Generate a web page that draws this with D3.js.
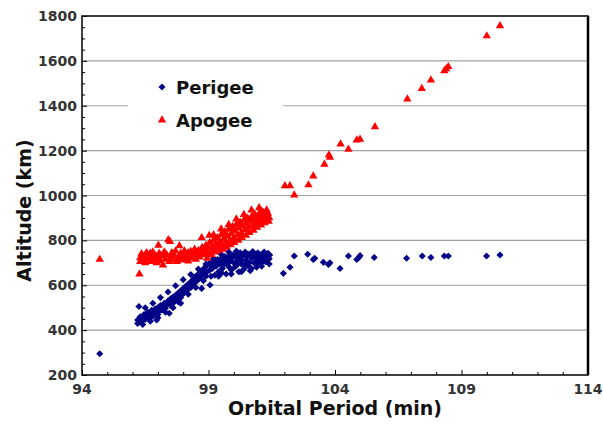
<!DOCTYPE html>
<html>
<head>
<meta charset="utf-8">
<script src="https://cdn.jsdelivr.net/npm/d3@7"></script>
<style>
    body { margin: 0; background: #fff; }
    text { font-family: "DejaVu Sans", sans-serif; font-weight: bold; }
</style>
</head>
<body>
<div class="canvas"></div>
<script>
//Data [period (min), altitude (km)]
const perigee = [
    [94.7, 295],
    [96.2, 430], [96.2, 445], [96.25, 505], [96.3, 460], [96.35, 438], [96.4, 452], [96.45, 470], [96.5, 448],
    [96.55, 462], [96.6, 480], [96.65, 455], [96.7, 470], [96.75, 488], [96.8, 462], [96.85, 478], [96.9, 495],
    [96.95, 445], [97.0, 470], [97.0, 500], [97.05, 485], [97.1, 510], [97.15, 490], [97.2, 505], [97.25, 520],
    [97.3, 498], [97.35, 515], [97.4, 530], [97.45, 475], [97.5, 510], [97.5, 540], [97.55, 525], [97.6, 548],
    [97.65, 530], [97.7, 555], [97.75, 540], [97.8, 527], [97.8, 565], [97.85, 550], [97.9, 575], [97.95, 558],
    [98.0, 585], [98.05, 568], [98.1, 595], [98.15, 578], [98.2, 605], [98.25, 588], [98.3, 615], [98.35, 598],
    [98.4, 628], [98.45, 610], [98.5, 640], [98.55, 620], [98.6, 650], [98.65, 632], [98.7, 662], [98.73, 586],
    [98.75, 645], [98.8, 672], [98.85, 652], [98.9, 685], [98.95, 660], [99.0, 695], [99.06, 601], [99.05, 668],
    [99.1, 700], [99.15, 675], [99.2, 708], [99.25, 645], [99.3, 685], [99.35, 715], [99.4, 660], [99.45, 695],
    [99.5, 720], [99.55, 675], [99.6, 705], [99.65, 728], [99.7, 650], [99.75, 690], [99.8, 730], [99.85, 710],
    [99.9, 668], [99.95, 735], [100.0, 700], [100.05, 682], [100.1, 740], [100.15, 718], [100.2, 660], [100.25, 745],
    [100.3, 695], [100.35, 728], [100.4, 672], [100.45, 748], [100.5, 710], [100.55, 688], [100.6, 738], [100.65, 665],
    [100.7, 722], [100.75, 750], [100.8, 700], [100.85, 735], [100.9, 680], [100.95, 745], [101.0, 712], [101.05, 695],
    [101.1, 738], [101.15, 720], [101.2, 748], [101.25, 705], [101.3, 730], [101.35, 742], [101.4, 718],
    [99.12, 688], [99.28, 700], [99.42, 710], [99.58, 690], [99.68, 715], [99.78, 700], [99.92, 722], [100.02, 730],
    [100.12, 705], [100.22, 725], [100.32, 712], [100.42, 735], [100.52, 728], [100.62, 700], [100.72, 735], [100.82, 725],
    [100.92, 712], [101.02, 732], [101.12, 705], [101.22, 728], [101.32, 712], [101.42, 735], [99.52, 655], [99.82, 680],
    [100.12, 690], [100.42, 690], [100.92, 700], [98.6, 630], [98.9, 640], [98.3, 590], [97.9, 545], [97.6, 520],
    [96.5, 500], [96.8, 520], [97.1, 545], [97.4, 570], [97.7, 598], [98.0, 625], [98.3, 648], [98.6, 672],
    [98.9, 695], [99.2, 720], [99.5, 738], [99.8, 748], [100.1, 752],
    [96.4, 425], [96.7, 440], [97.0, 455], [97.3, 480], [97.6, 500], [97.9, 520], [98.2, 560], [98.5, 590],
    [98.8, 620], [99.1, 640], [99.4, 640], [99.9, 650], [100.3, 660], [100.7, 675], [101.1, 685], [101.4, 695],
    [101.96, 653], [102.22, 680], [102.39, 730], [102.92, 738], [103.14, 715], [103.2, 720], [103.54, 702],
    [103.74, 693], [103.8, 700], [104.2, 675], [104.53, 730], [104.86, 715], [104.95, 725], [104.99, 732],
    [105.55, 724], [106.83, 720], [107.45, 730], [107.79, 724], [108.32, 730], [108.48, 730], [109.99, 730],
    [110.52, 735]
];

const apogee = [
    [94.7, 715],
    [96.27, 650], [96.3, 705], [96.3, 722], [96.35, 740], [96.4, 712], [96.45, 730], [96.5, 700], [96.55, 745],
    [96.6, 718], [96.65, 735], [96.7, 705], [96.75, 725], [96.8, 748], [96.85, 712], [96.9, 732], [96.95, 700],
    [97.0, 722], [97.02, 778], [97.05, 742], [97.1, 710], [97.15, 730], [97.2, 690], [97.25, 748], [97.3, 715],
    [97.35, 735], [97.41, 802], [97.45, 705], [97.48, 795], [97.5, 725], [97.55, 745], [97.6, 712], [97.65, 732],
    [97.7, 752], [97.75, 705], [97.8, 722], [97.85, 776], [97.9, 742], [97.95, 712], [98.0, 730], [98.05, 752],
    [98.1, 718], [98.15, 738], [98.2, 708], [98.25, 728], [98.3, 750], [98.35, 720], [98.4, 740], [98.45, 760],
    [98.5, 715], [98.55, 735], [98.6, 755], [98.65, 725], [98.7, 745], [98.73, 812], [98.75, 768], [98.8, 735],
    [98.85, 758], [98.9, 778], [98.95, 742], [99.0, 765], [99.03, 822], [99.05, 790], [99.1, 750], [99.15, 772],
    [99.2, 800], [99.25, 760], [99.3, 785], [99.35, 812], [99.4, 770], [99.45, 795], [99.5, 825], [99.55, 780],
    [99.6, 805], [99.65, 838], [99.7, 790], [99.75, 818], [99.8, 850], [99.85, 800], [99.9, 830], [99.95, 862],
    [100.0, 812], [100.05, 842], [100.1, 870], [100.15, 825], [100.2, 855], [100.25, 880], [100.3, 835], [100.35, 865],
    [100.4, 890], [100.45, 848], [100.5, 875], [100.55, 898], [100.6, 858], [100.65, 885], [100.7, 905], [100.75, 868],
    [100.8, 892], [100.85, 912], [100.9, 878], [100.95, 900], [101.0, 920], [101.05, 888], [101.1, 908], [101.15, 925],
    [101.2, 895], [101.25, 915], [101.3, 905], [101.35, 920], [101.4, 900],
    [99.12, 735], [99.28, 748], [99.42, 755], [99.58, 760], [99.72, 770], [99.88, 780], [100.02, 790], [100.18, 800],
    [100.32, 812], [100.48, 822], [100.62, 835], [100.78, 845], [100.92, 858], [101.08, 868], [101.22, 878], [101.38, 885],
    [99.6, 830], [99.9, 850], [100.2, 870], [100.5, 895], [100.8, 915], [101.1, 930], [96.4, 728], [96.7, 742],
    [97.0, 708], [97.3, 740], [97.6, 738], [97.9, 725], [98.2, 745], [98.5, 748], [98.8, 748], [98.95, 720],
    [100.7, 935], [101.0, 945], [101.3, 935], [100.4, 915], [100.1, 895], [99.8, 870], [99.5, 850], [99.2, 825],
    [102.02, 1043], [102.22, 1043], [102.39, 1002], [102.95, 1047], [103.14, 1087], [103.58, 1139], [103.76, 1180],
    [103.8, 1170], [104.22, 1229], [104.53, 1206], [104.86, 1247], [104.99, 1250], [105.58, 1306], [106.86, 1430],
    [107.43, 1477], [107.79, 1514], [108.32, 1556], [108.4, 1565], [108.48, 1574], [110.0, 1711], [110.52, 1756]
];

const xTicks = [94, 99, 104, 109, 114];
const yTicks = [200, 400, 600, 800, 1000, 1200, 1400, 1600, 1800];
const legendNames = ['Perigee', 'Apogee'];

//SVG Parameters
const
    width = 603,
    height = 428,
    padL = 82,
    padR = 588,
    padT = 16,
    padB = 375,
    blue = '#000088',
    red = '#ff0000';

const svg = d3.select('.canvas')
    .append('svg')
    .attr('width', width)
    .attr('height', height)
    ;

const xScale = d3.scaleLinear().domain([94, 114]).range([padL, padR]);
const yScale = d3.scaleLinear().domain([200, 1800]).range([padB, padT]);

//Gridlines
svg.append('g')
    .selectAll('line')
    .data(yTicks.slice(1, -1))
    .enter()
    .append('line')
    .attr('x1', padL)
    .attr('x2', padR)
    .attr('y1', d => yScale(d))
    .attr('y2', d => yScale(d))
    .attr('stroke', '#a0a0a0')
    .attr('stroke-width', 1.2)
    ;

//Legend background
svg.append('rect')
    .attr('x', 128)
    .attr('y', 70)
    .attr('width', 155)
    .attr('height', 68)
    .attr('fill', '#fff')
    ;

//Points (perigee: square turned 45deg, a fat diamond)
const diamond = d3.symbol().type(d3.symbolSquare).size(25);
const triangle = d3.symbol().type(d3.symbolTriangle).size(30);

svg.append('g')
    .selectAll('path')
    .data(perigee)
    .enter()
    .append('path')
    .attr('d', diamond)
    .attr('transform', d => `translate(${xScale(d[0])}, ${yScale(d[1])}) rotate(45)`)
    .attr('fill', blue)
    ;

svg.append('g')
    .selectAll('path')
    .data(apogee)
    .enter()
    .append('path')
    .attr('d', triangle)
    .attr('transform', d => `translate(${xScale(d[0])}, ${yScale(d[1])})`)
    .attr('fill', red)
    ;

//Axes
const xAxis = d3.axisBottom(xScale)
    .tickValues(d3.range(94, 114.5, 1))
    .tickSize(0)
    .tickFormat('');
svg.append('g')
    .attr('transform', `translate(0, ${padB})`)
    .call(xAxis)
    .call(g => g.select('.domain').remove())
    .call(g => g.selectAll('.tick line')
        .attr('y2', d => xTicks.includes(d) ? -5 : -3)
        .attr('stroke', '#000'))
    .call(g => g.selectAll('.xlabel')
        .data(xTicks)
        .enter()
        .append('text')
        .attr('x', d => xScale(d))
        .attr('y', 19)
        .attr('text-anchor', 'middle')
        .attr('fill', '#333')
        .attr('font-size', 14)
        .text(d => d))
    ;

const yAxis = d3.axisLeft(yScale)
    .tickValues(d3.range(200, 1801, 50))
    .tickSize(0)
    .tickFormat('');
svg.append('g')
    .attr('transform', `translate(${padL}, 0)`)
    .call(yAxis)
    .call(g => g.select('.domain').remove())
    .call(g => g.selectAll('.tick line')
        .attr('x2', d => yTicks.includes(d) ? 5 : 3)
        .attr('stroke', '#000'))
    .call(g => g.selectAll('.ylabel')
        .data(yTicks)
        .enter()
        .append('text')
        .attr('x', -5)
        .attr('y', d => yScale(d))
        .attr('dy', '0.36em')
        .attr('text-anchor', 'end')
        .attr('fill', '#333')
        .attr('font-size', 14)
        .text(d => d))
    ;

//Frame
svg.append('path')
    .attr('d', `M${padL},${padT}H${padR}V${padB}H${padL}Z`)
    .attr('fill', 'none')
    .attr('stroke', '#000')
    .attr('stroke-width', 1.5)
    ;
svg.append('line')
    .attr('x1', padR)
    .attr('x2', padR)
    .attr('y1', padT)
    .attr('y2', padB)
    .attr('stroke', '#000')
    .attr('stroke-width', 2.5)
    ;

//Titles
svg.append('text')
    .attr('x', (padL + padR) / 2)
    .attr('y', 415)
    .attr('text-anchor', 'middle')
    .attr('font-size', 19)
    .attr('fill', '#111')
    .text('Orbital Period  (min)')
    ;
svg.append('text')
    .attr('transform', `translate(31, ${(padT + padB) / 2 + 15}) rotate(-90)`)
    .attr('text-anchor', 'middle')
    .attr('font-size', 19)
    .attr('fill', '#111')
    .text('Altitude  (km)')
    ;

//Legend
const legend = svg.append('g')
    .selectAll('g')
    .data(legendNames)
    .enter()
    .append('g')
    .attr('transform', (d, i) => `translate(162, ${87 + i * 33})`)
    ;
legend.append('path')
    .attr('d', (d, i) => i === 0 ? diamond() : triangle())
    .attr('transform', (d, i) => i === 0 ? 'rotate(45)' : null)
    .attr('fill', (d, i) => i === 0 ? blue : red)
    ;
legend.append('text')
    .attr('x', 14)
    .attr('y', 7)
    .attr('font-size', 18)
    .attr('fill', '#111')
    .text(d => d)
    ;
</script>
</body>
</html>
